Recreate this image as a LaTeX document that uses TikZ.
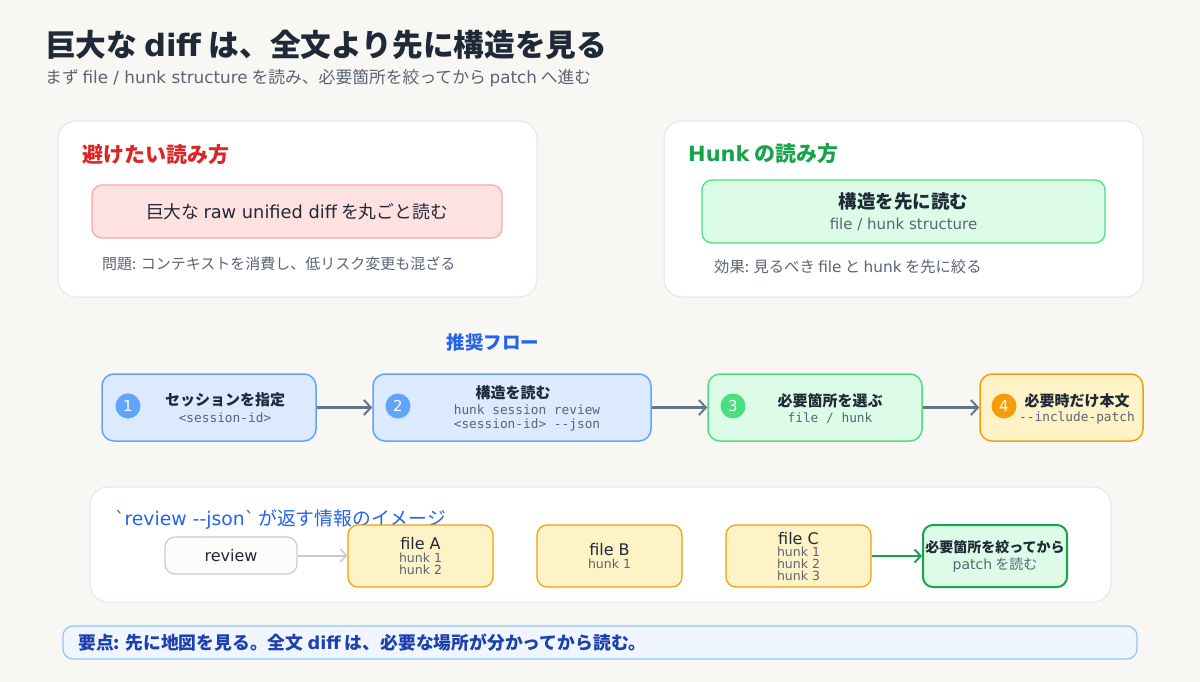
\documentclass[tikz,border=0pt]{standalone}
\usepackage{fontspec}
\setmainfont{Noto Sans CJK JP}
\setmonofont{DejaVu Sans Mono}
\newfontfamily\latinfont{DejaVu Sans}[Ligatures=TeXOff]
\usetikzlibrary{positioning,arrows.meta}

\definecolor{bgcol}{HTML}{F8F7F3}
\definecolor{panelline}{HTML}{DFE6F0}
\definecolor{inkdark}{HTML}{1F2937}
\definecolor{inkgray}{HTML}{5B6472}
\definecolor{avoidred}{HTML}{DC2626}
\definecolor{pinkfill}{HTML}{FEE2E2}
\definecolor{pinkline}{HTML}{FCA5A5}
\definecolor{okgreen}{HTML}{16A34A}
\definecolor{mintfill}{HTML}{DCFCE7}
\definecolor{mintline}{HTML}{4ADE80}
\definecolor{flowblue}{HTML}{2563EB}
\definecolor{skyfill}{HTML}{DBEAFE}
\definecolor{skyline}{HTML}{60A5FA}
\definecolor{sandfill}{HTML}{FEF3C7}
\definecolor{amber}{HTML}{F59E0B}
\definecolor{slatearrow}{HTML}{64748B}
\definecolor{lightarrow}{HTML}{C3CCD8}
\definecolor{notefill}{HTML}{EFF6FF}
\definecolor{noteline}{HTML}{93C5FD}
\definecolor{noteink}{HTML}{1E40AF}

\newcommand{\fsz}[2]{\fontsize{#1}{#2}\selectfont}
\newcommand{\eng}[1]{{\latinfont #1}}

\tikzset{
    panel/.style={draw=panelline, fill=white, line width=1pt, rounded corners=18pt, inner sep=0pt},
    card/.style={rounded corners=10pt, line width=1.2pt, inner sep=0pt, align=center},
    flowbox/.style={card, rounded corners=12pt, line width=1.5pt, minimum height=67pt},
    filebox/.style={card, draw=amber, fill=sandfill, minimum width=145pt, minimum height=62pt},
    stepnum/.style={circle, minimum size=25pt, inner sep=0pt, text=white, font=\latinfont\fsz{15}{18}},
    flowarrow/.style={draw=slatearrow, line width=2.5pt, -{Straight Barb[length=7pt,width=15pt,line width=2pt]}},
    heading/.style={anchor=west, inner sep=0pt},
    label/.style={inner sep=0pt}
}

\begin{document}
\begin{tikzpicture}[x=1pt,y=-1pt]
    \useasboundingbox[fill=bgcol] (0,0) rectangle (1200,682);

    % Title
    \node[heading, text=inkdark, font=\fsz{30.7}{35}\bfseries] (title) at (45,45) {巨大な \eng{diff} は、全文より先に構造を見る};
    \node[heading, text=inkgray, font=\fsz{16.8}{20}] (subtitle) at (45,78) {まず \eng{file / hunk structure} を読み、必要箇所を絞ってから \eng{patch} へ進む};

    % Avoid panel
    \node[panel, minimum width=479pt, minimum height=176pt] (avoid) at (297.5,209) {};
    \node[heading, text=avoidred, font=\fsz{21}{25}\bfseries] (avoidtitle) at (82,155) {避けたい読み方};
    \node[card, draw=pinkline, fill=pinkfill, minimum width=410pt, minimum height=53pt,
          text=inkdark, font=\fsz{17.8}{21}] (rawdiff) at (297,211.5) {巨大な \eng{raw unified diff} を丸ごと読む};
    \node[heading, text=inkgray, font=\fsz{15}{18}] (problem) at (102,264) {問題: コンテキストを消費し、低リスク変更も混ざる};

    % Hunk panel
    \node[panel, minimum width=479pt, minimum height=176pt] (hunkway) at (903.5,209) {};
    \node[heading, text=okgreen, font=\fsz{21}{25}\bfseries] (hunktitle) at (688,154) {\eng{Hunk} の読み方};
    \node[card, draw=mintline, fill=mintfill, minimum width=403pt, minimum height=63pt] (structfirst) at (903.5,211.5) {};
    \node[label, text=inkdark, font=\fsz{18.5}{22}\bfseries] (structtxt) at (903.5,202) {構造を先に読む};
    \node[label, text=inkgray, font=\latinfont\fsz{15}{18}] (structsub) at (903.5,224) {file / hunk structure};
    \node[heading, text=inkgray, font=\fsz{15.3}{18}] (effect) at (714,267) {効果: 見るべき \eng{file} と \eng{hunk} を先に絞る};

    % Recommended flow
    \node[label, text=flowblue, font=\fsz{18.5}{22}\bfseries] (flowtitle) at (493,342) {推奨フロー};
    \node[flowbox, draw=skyline, fill=skyfill, minimum width=214pt] (s1) at (209,407.5) {};
    \node[flowbox, draw=skyline, fill=skyfill, minimum width=278pt] (s2) at (512,407.5) {};
    \node[flowbox, draw=mintline, fill=mintfill, minimum width=214pt] (s3) at (815,407.5) {};
    \node[flowbox, draw=amber, fill=sandfill, minimum width=163pt] (s4) at (1061.5,407.5) {};

    \node[stepnum, fill=skyline] (n1) at (128,406) {1};
    \node[stepnum, fill=skyline] (n2) at (398,406) {2};
    \node[stepnum, fill=mintline] (n3) at (733,406) {3};
    \node[stepnum, fill=amber] (n4) at (1004,406) {4};

    \node[label, text=inkdark, font=\fsz{15}{18}\bfseries] (s1txt) at (225,400) {セッションを指定};
    \node[label, text=inkgray, font=\ttfamily\fsz{12.8}{15}] (s1sub) at (225,418) {<session-id>};
    \node[label, text=inkdark, font=\fsz{15}{18}\bfseries] (s2txt) at (513,393) {構造を読む};
    \node[label, align=center, text=inkgray, font=\ttfamily\fsz{12.8}{14}] (s2sub) at (527,418) {hunk session review\\<session-id> --json};
    \node[label, text=inkdark, font=\fsz{15}{18}\bfseries] (s3txt) at (830,401) {必要箇所を選ぶ};
    \node[label, text=inkgray, font=\ttfamily\fsz{12.8}{15}] (s3sub) at (830,418) {file / hunk};
    \node[label, text=inkdark, font=\fsz{15}{18}\bfseries] (s4txt) at (1077,401) {必要時だけ本文};
    \node[label, text=inkgray, font=\ttfamily\fsz{12.8}{15}] (s4sub) at (1077,418) {--include-patch};

    \draw[flowarrow] (s1) -- (s2);
    \draw[flowarrow] (s2) -- (s3);
    \draw[flowarrow] (s3) -- (s4);

    % review --json image
    \node[panel, minimum width=1021pt, minimum height=115pt] (jsonpanel) at (600.5,544.5) {};
    \node[heading, text=flowblue, font=\fsz{18.8}{22}] (jsontitle) at (115,519) {\eng{`review --json`} が返す情報のイメージ};
    \node[card, draw=lightarrow, fill=bgcol!40!white, minimum width=132pt, minimum height=37pt,
          text=inkdark, font=\latinfont\fsz{16}{19}] (review) at (231,555.5) {review};
    \node[filebox] (fileA) at (420.5,556) {};
    \node[filebox] (fileB) at (609.5,556) {};
    \node[filebox] (fileC) at (798.5,556) {};
    \node[card, draw=okgreen, fill=mintfill, line width=2pt, minimum width=144pt, minimum height=62pt] (narrow) at (995,556) {};

    \node[label, text=inkdark, font=\latinfont\fsz{16}{19}] (fileAtxt) at (420.5,544) {file A};
    \node[label, align=center, text=inkgray, font=\latinfont\fsz{12.5}{12}] (fileAsub) at (420.5,563.5) {hunk 1\\hunk 2};
    \node[label, text=inkdark, font=\latinfont\fsz{16}{19}] (fileBtxt) at (609.5,550) {file B};
    \node[label, text=inkgray, font=\latinfont\fsz{12.5}{12}] (fileBsub) at (609.5,563.5) {hunk 1};
    \node[label, text=inkdark, font=\latinfont\fsz{16}{19}] (fileCtxt) at (798.5,538.5) {file C};
    \node[label, align=center, text=inkgray, font=\latinfont\fsz{12.5}{12}] (fileCsub) at (798.5,564) {hunk 1\\hunk 2\\hunk 3};
    \node[label, text=inkdark, font=\fsz{14}{17}\bfseries] (narrowtxt) at (995,547) {必要箇所を絞ってから};
    \node[label, text=inkgray, font=\fsz{14}{17}] (narrowsub) at (995,565) {\eng{patch} を読む};

    \draw[draw=lightarrow, line width=2pt, -{Straight Barb[length=6pt,width=13pt,line width=1.6pt]}] (review) -- (fileA.west |- review);
    \draw[draw=okgreen, line width=2.5pt, -{Straight Barb[length=6pt,width=13pt,line width=2pt]}] (fileC) -- (narrow);

    % Key point
    \node[card, draw=noteline, fill=notefill, minimum width=1074pt, minimum height=33pt] (keypoint) at (600,642.5) {};
    \node[heading, text=noteink, font=\fsz{17.8}{20}\bfseries] (keytxt) at (78,642.5) {要点: 先に地図を見る。全文 \eng{diff} は、必要な場所が分かってから読む。};
\end{tikzpicture}
\end{document}
